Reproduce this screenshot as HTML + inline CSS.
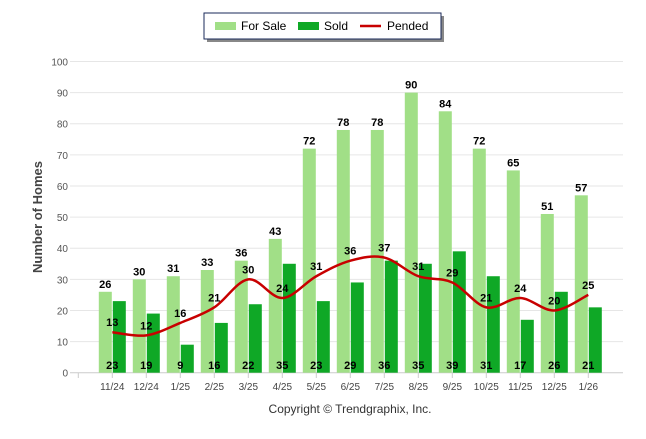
<!DOCTYPE html>
<html><head><meta charset="utf-8"><style>
body{margin:0;background:#fff;font-family:"Liberation Sans",sans-serif}
</style></head><body>
<svg width="646" height="434" xmlns="http://www.w3.org/2000/svg" font-family="Liberation Sans, sans-serif">
<g id="grid"></g><g id="bars"></g><g id="line"></g><g id="labels"></g>
<text x="42" y="217" transform="rotate(-90 42 217)" text-anchor="middle" font-size="13" font-weight="bold" fill="#444">Number of Homes</text>
<text x="350" y="413" text-anchor="middle" font-size="12" fill="#333">Copyright © Trendgraphix, Inc.</text>
<g>
<rect x="207" y="16" width="237" height="26" fill="#888"/>
<rect x="204" y="13" width="237" height="26" fill="#fff" stroke="#1a2a5a" stroke-width="1"/>
<rect x="215" y="22" width="21" height="8" fill="#a1df87"/>
<text x="241" y="30" font-size="12">For Sale</text>
<rect x="298" y="22" width="21" height="8" fill="#0fa826"/>
<text x="324" y="30" font-size="12">Sold</text>
<line x1="360" y1="26" x2="381" y2="26" stroke="#c80000" stroke-width="2.5"/>
<text x="387" y="30" font-size="12">Pended</text>
</g>
</svg>
<script>
const cats=["11/24","12/24","1/25","2/25","3/25","4/25","5/25","6/25","7/25","8/25","9/25","10/25","11/25","12/25","1/26"];
const forSale=[26,30,31,33,36,43,72,78,78,90,84,72,65,51,57];
const sold=[23,19,9,16,22,35,23,29,36,35,39,31,17,26,21];
const pended=[13,12,16,21,30,24,31,36,37,31,29,21,24,20,25];
const yTicks=[0,10,20,30,40,50,60,70,80,90,100];
const NS="http://www.w3.org/2000/svg";
const y=v=>372.7-v*3.112;
const x=i=>112.3+i*34;
function mk(t,a,p){const e=document.createElementNS(NS,t);for(const k in a)e.setAttribute(k,a[k]);document.getElementById(p).appendChild(e);return e;}
yTicks.forEach(v=>{
 const g=mk('line',{x1:70,x2:623,y1:y(v),y2:y(v),stroke:v?'#e6e6e6':'#ccc'},'grid');
 
 
 const t=mk('text',{x:68,y:y(v)+4,'text-anchor':'end','font-size':'10',fill:'#555'},'grid');t.textContent=v;
 
 
});
const t0=mk('line',{x1:x(-1),x2:x(-1),y1:372.7,y2:378,stroke:'#ccc'},'grid');


cats.forEach((c,i)=>{
 const tk=mk('line',{x1:x(i),x2:x(i),y1:372.7,y2:378,stroke:'#ccc'},'grid');
 
 
 const t=mk('text',{x:x(i),y:390,'text-anchor':'middle','font-size':'10',fill:'#444'},'grid');t.textContent=c;
 
 
 const b1=mk('rect',{x:x(i)-13.5,y:y(forSale[i]),width:13,height:372.7-y(forSale[i]),fill:'#a1df87'},'bars');
 
 
 const b2=mk('rect',{x:x(i)+0.5,y:y(sold[i]),width:13,height:372.7-y(sold[i]),fill:'#0fa826'},'bars');
 
 
 const l1=mk('text',{x:x(i)-7,y:y(forSale[i])-4,'text-anchor':'middle','font-size':'11','font-weight':'bold'},'labels');l1.textContent=forSale[i];
 
 
 const l2=mk('text',{x:x(i),y:369,'text-anchor':'middle','font-size':'11','font-weight':'bold'},'labels');l2.textContent=sold[i];
 
 
 const l3=mk('text',{x:x(i),y:y(pended[i])-6,'text-anchor':'middle','font-size':'11','font-weight':'bold'},'labels');l3.textContent=pended[i];
 
 
});
const pts=pended.map((v,i)=>[x(i),y(v)]);
let d='M'+pts[0][0]+','+pts[0][1];
for(let i=0;i<pts.length-1;i++){
 const p0=pts[i-1]||pts[i],p1=pts[i],p2=pts[i+1],p3=pts[i+2]||p2;
 const c1=[p1[0]+(p2[0]-p0[0])/6,p1[1]+(p2[1]-p0[1])/6],c2=[p2[0]-(p3[0]-p1[0])/6,p2[1]-(p3[1]-p1[1])/6];
 d+=` C${c1} ${c2} ${p2}`;
}
const ln=mk('path',{d:d,fill:'none',stroke:'#c80000','stroke-width':2.5},'line');


</script>
</body></html>
